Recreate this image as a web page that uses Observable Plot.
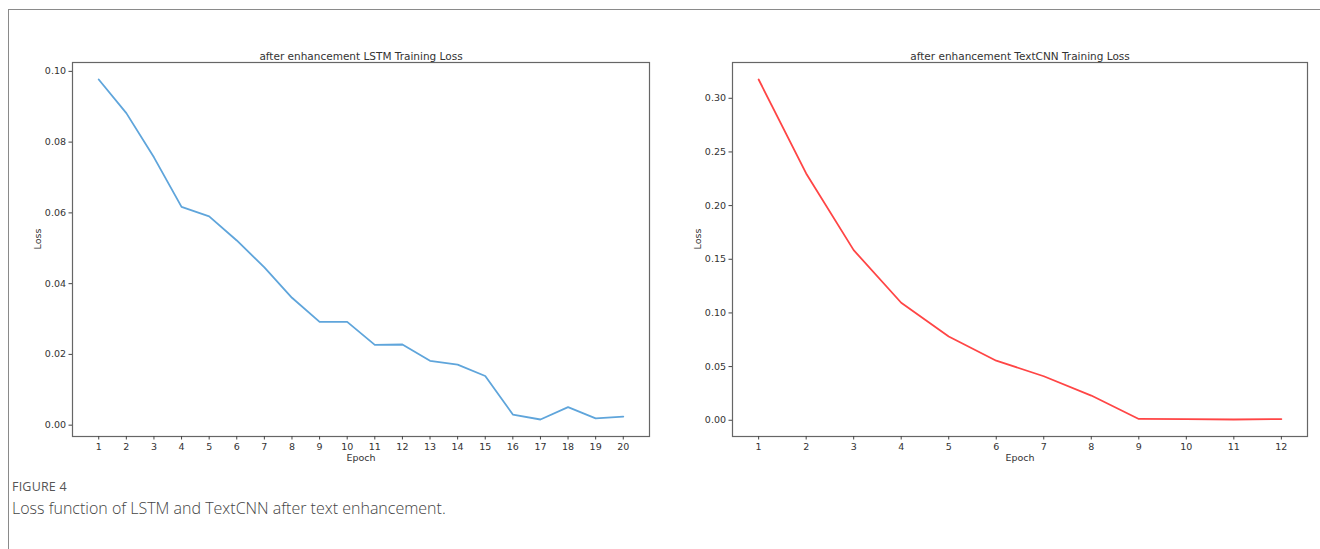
<!DOCTYPE html>
<html><head><meta charset="utf-8">
<script src="https://cdn.jsdelivr.net/npm/d3@7"></script>
<script src="https://cdn.jsdelivr.net/npm/@observablehq/plot@0.6"></script>
<style>
html,body{margin:0;padding:0;background:#fff;}
#wrap{position:relative;width:1320px;height:549px;overflow:hidden;background:#fff;}
#border{position:absolute;left:8px;top:9px;width:1400px;height:600px;border-left:1.5px solid #8a8a8a;border-top:1.5px solid #8a8a8a;}
.panel{position:absolute;top:0;}
#cap1{position:absolute;left:12px;top:478px;font-family:"Open Sans",sans-serif;font-size:12.5px;color:#555;letter-spacing:0.2px;}
#cap2{position:absolute;left:12px;top:497px;font-family:"Open Sans",sans-serif;font-size:16px;font-weight:300;color:#444;}
</style></head>
<body><div id="wrap"><div id="border"></div>
<div id="left" class="panel" style="left:0px"></div>
<div id="right" class="panel" style="left:660px"></div>
<div id="cap1">FIGURE 4</div>
<div id="cap2">Loss function of LSTM and TextCNN after text enhancement.</div>
</div>
<script>
const lstmEpochs = [1,2,3,4,5,6,7,8,9,10,11,12,13,14,15,16,17,18,19,20];
const lstmLoss = [0.0977,0.0882,0.0757,0.0617,0.0590,0.0522,0.0446,0.0360,0.0292,0.0292,0.0227,0.0228,0.0182,0.0171,0.0139,0.0030,0.0016,0.0051,0.0019,0.0024];
const cnnEpochs = [1,2,3,4,5,6,7,8,9,10,11,12];
const cnnLoss = [0.3175,0.2300,0.1585,0.1095,0.0780,0.0555,0.0410,0.0230,0.0012,0.0011,0.0007,0.0011];
const lstmYTicks = [0,0.02,0.04,0.06,0.08,0.10];
const cnnYTicks = [0,0.05,0.10,0.15,0.20,0.25,0.30];
const titles = ["after enhancement LSTM Training Loss","after enhancement TextCNN Training Loss"];

function panel(epochs, loss, yTicks, title, color, width, ml, mr) {
  const data = epochs.map((e,i)=>({epoch:e, loss:loss[i]}));
  const xmin = d3.min(epochs), xmax = d3.max(epochs);
  const xm = (xmax - xmin) * 0.05;
  const ymin = d3.min(loss), ymax = d3.max(loss);
  const ym = (ymax - ymin) * 0.05;
  return Plot.plot({
    width, height: 480,
    marginLeft: ml, marginRight: mr, marginTop: 62, marginBottom: 44,
    style: {fontFamily: "DejaVu Sans, sans-serif", fontSize: "9.5px", color: "#333", background: "transparent"},
    x: {domain: [xmin - xm, xmax + xm], ticks: epochs, tickFormat: d3.format("d"), label: null},
    y: {domain: [ymin - ym, ymax + ym], ticks: yTicks, tickFormat: d3.format(".2f"), label: null},
    marks: [
      Plot.frame({stroke: "#666", strokeWidth: 1.2}),
      Plot.axisX({ticks: epochs, tickFormat: d3.format("d"), tickSize: 3.5, tickPadding: 3, label: null, stroke: "#444"}),
      Plot.axisY({ticks: yTicks, tickFormat: d3.format(".2f"), tickSize: 3.5, tickPadding: 3, label: null, stroke: "#444"}),
      Plot.line(data, {x: "epoch", y: "loss", stroke: color, strokeWidth: 1.8}),
      Plot.text([title], {frameAnchor: "top", dy: -10, fontSize: 10.5, fill: "#333"}),
      Plot.text(["Epoch"], {frameAnchor: "bottom", dy: 24, fontSize: 9.5, fill: "#333"}),
      Plot.text(["Loss"], {frameAnchor: "left", dx: -35, rotate: -90, fontSize: 9.5, fill: "#333"})
    ]
  });
}
document.getElementById("left").append(panel(lstmEpochs, lstmLoss, lstmYTicks, titles[0], "#5fa5db", 660, 72, 11));
document.getElementById("right").append(panel(cnnEpochs, cnnLoss, cnnYTicks, titles[1], "#ff4545", 660, 72, 13));
</script></body></html>
